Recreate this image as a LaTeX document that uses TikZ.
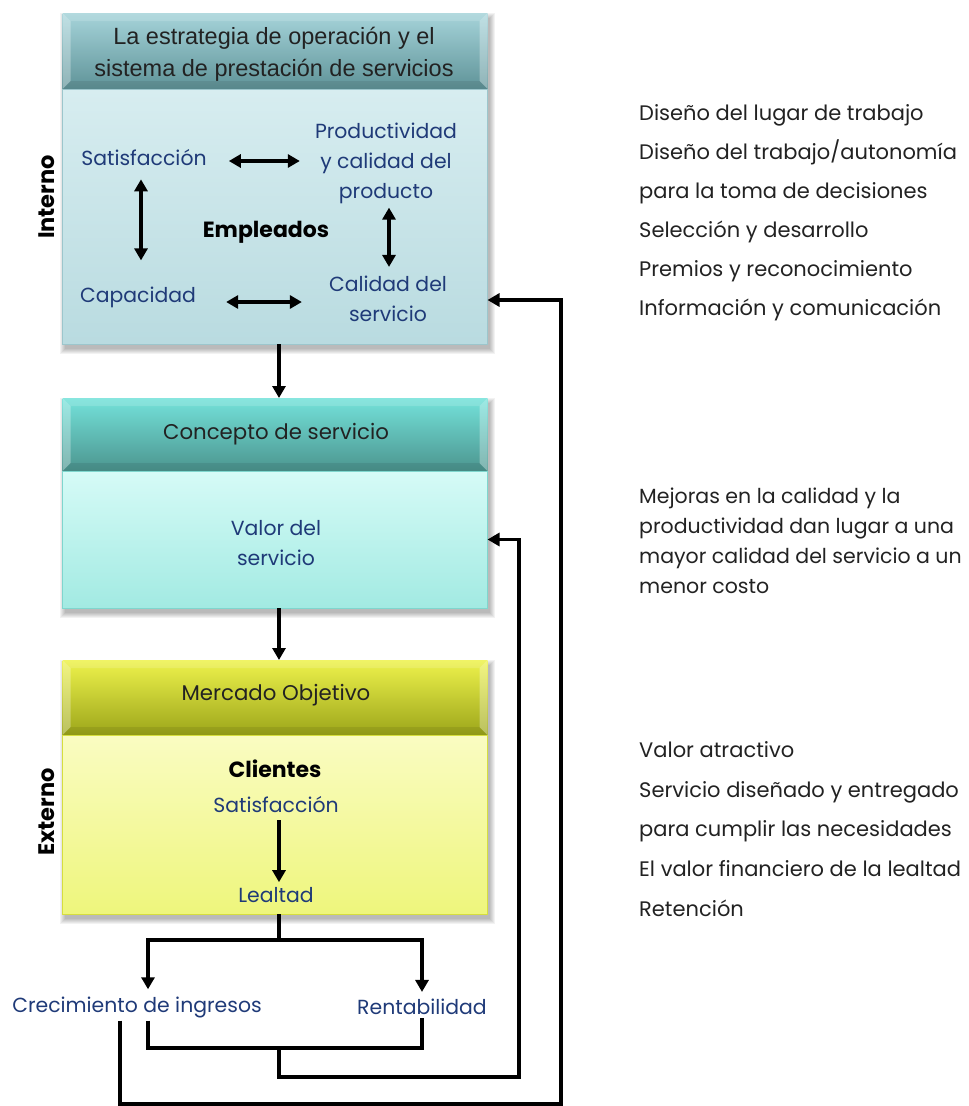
\documentclass[tikz,border=0pt]{standalone}
\usepackage{fontspec}
\setmainfont{Liberation Sans}
\newfontfamily\cgfont{Poppins}
\usetikzlibrary{arrows.meta,calc}
\definecolor{navy}{HTML}{1F3A78}
\definecolor{ink}{HTML}{222222}
% header and body colours of the three stages
\definecolor{hAtop}{HTML}{A6D4DA}\definecolor{hAbot}{HTML}{5F9398}
\definecolor{bAtop}{HTML}{D7EDF0}\definecolor{bAbot}{HTML}{B9DBE0}\definecolor{bAline}{HTML}{9CC6CC}
\definecolor{hBtop}{HTML}{74E2DA}\definecolor{hBbot}{HTML}{4C958F}
\definecolor{bBtop}{HTML}{D6FBF7}\definecolor{bBbot}{HTML}{A2EAE2}\definecolor{bBline}{HTML}{7FD6CE}
\definecolor{hCtop}{HTML}{EEF24C}\definecolor{hCbot}{HTML}{9CA61A}
\definecolor{bCtop}{HTML}{FAFCC2}\definecolor{bCbot}{HTML}{EEF67C}\definecolor{bCline}{HTML}{D6DE3E}

\tikzset{
  hdr/.style={minimum width=425pt, minimum height=#1, inner sep=0pt, outer sep=0pt},
  bodybox/.style={minimum width=425pt, minimum height=#1, inner sep=0pt, outer sep=0pt},
  bluetxt/.style={text=navy, font=\cgfont\fontsize{20.4}{30}\selectfont, align=center, inner sep=1pt},
  sidetxt/.style={anchor=west, text=ink, font=\cgfont\fontsize{21}{39}\selectfont, align=left, inner sep=0pt},
  boldtxt/.style={text=black, font=\cgfont\bfseries\fontsize{22}{24}\selectfont, inner sep=1pt},
  sidelabel/.style={text=black, font=\cgfont\bfseries\fontsize{22.5}{26}\selectfont, rotate=90, inner sep=0pt},
  hdrtxt/.style={text=ink, font=\cgfont\fontsize{21.3}{24}\selectfont},
  wire/.style={line width=3.2pt},
  arr/.style={line width=3.2pt, -{Triangle[length=12pt,width=13pt]}},
  dbl/.style={line width=3.2pt, {Triangle[length=12pt,width=13pt]}-{Triangle[length=12pt,width=13pt]}},
}

% soft shadow under a box spanning two nodes
\newcommand\softshadow[2]{%
  \foreach \k in {0,...,5}{%
    \fill[black,opacity=0.05]
      ([shift={(2pt-\k*1pt,-5pt+\k*1pt)}]#1.north west) rectangle
      ([shift={(2pt+\k*1pt,-5pt-\k*1pt)}]#2.south east);
  }%
}
% bevelled rim of a header bar
\newcommand\bevel[1]{%
  \fill[white,opacity=.30] (#1.north west) -- ([shift={(8pt,-8pt)}]#1.north west)
     -- ([shift={(8pt,8pt)}]#1.south west) -- (#1.south west) -- cycle;
  \fill[white,opacity=.30] (#1.north east) -- ([shift={(-8pt,-8pt)}]#1.north east)
     -- ([shift={(-8pt,8pt)}]#1.south east) -- (#1.south east) -- cycle;
  \fill[white,opacity=.15] (#1.north west) -- ([shift={(8pt,-8pt)}]#1.north west)
     -- ([shift={(-8pt,-8pt)}]#1.north east) -- (#1.north east) -- cycle;
  \fill[black,opacity=.08] (#1.south west) -- ([shift={(8pt,8pt)}]#1.south west)
     -- ([shift={(-8pt,8pt)}]#1.south east) -- (#1.south east) -- cycle;
}

\begin{document}
\begin{tikzpicture}[x=1pt,y=-1pt]
\useasboundingbox (0,0) rectangle (969,1106);

% ---------- box outlines (drawn first for the shadows) ----------
\node[hdr=76pt] (h1) at (275,51) {};
\node[bodybox=255pt] (b1) at (275,216.5) {};
\node[hdr=73pt] (h2) at (275,434.5) {};
\node[bodybox=137pt] (b2) at (275,539.5) {};
\node[hdr=75pt] (h3) at (275,697.5) {};
\node[bodybox=179pt] (b3) at (275,824.5) {};

\softshadow{h1}{b1}
\softshadow{h2}{b2}
\softshadow{h3}{b3}

% ---------- stage 1: operating strategy ----------
\shade[top color=hAtop, bottom color=hAbot] (h1.north west) rectangle (h1.south east);
\bevel{h1}
\shade[top color=bAtop, bottom color=bAbot, draw=bAline, line width=1pt] (b1.north west) rectangle (b1.south east);
\node[text=ink, font=\fontsize{23.5}{32}\selectfont, align=center] (t1) at (274,54)
  {La estrategia de operación y el\\sistema de prestación de servicios};

\node[bluetxt] (sat) at (144,158) {Satisfacción};
\node[bluetxt] (prod) at (386,163) {Productividad\\y calidad del\\producto};
\node[bluetxt] (cap) at (138,297) {Capacidad};
\node[bluetxt] (cal) at (388,299) {Calidad del\\servicio};
\node[boldtxt] (emp) at (266,232) {Empleados};
\node[sidelabel] (int) at (47,197) {Interno};

\draw[dbl, shorten <=21pt, shorten >=14pt] ([yshift=-3pt]sat.east) -- ([yshift=-3pt]sat.east -| prod.west);
\draw[dbl, shorten <=29pt, shorten >=26pt] ([yshift=-5pt]cap.east) -- ([yshift=-5pt]cap.east -| cal.west);
\draw[dbl, shorten <=12pt, shorten >=25pt] ([xshift=-3pt]sat.south) -- ([xshift=-3pt]sat.south |- cap.north);
\draw[dbl, shorten <=3pt, shorten >=8pt] ([xshift=3pt]prod.south) -- ([xshift=3pt]prod.south |- cal.north);

% ---------- stage 2: service concept ----------
\shade[top color=hBtop, bottom color=hBbot] (h2.north west) rectangle (h2.south east);
\bevel{h2}
\shade[top color=bBtop, bottom color=bBbot, draw=bBline, line width=1pt] (b2.north west) rectangle (b2.south east);
\node[hdrtxt] (t2) at (276,434) {Concepto de servicio};
\node[bluetxt] (val) at (276,543) {Valor del\\servicio};

% ---------- stage 3: target market ----------
\shade[top color=hCtop, bottom color=hCbot] (h3.north west) rectangle (h3.south east);
\bevel{h3}
\shade[top color=bCtop, bottom color=bCbot, draw=bCline, line width=1pt] (b3.north west) rectangle (b3.south east);
\node[hdrtxt] (t3) at (276,695) {Mercado Objetivo};
\node[boldtxt] (cli) at (275,769) {Clientes};
\node[bluetxt] (sat2) at (276,805) {Satisfacción};
\node[bluetxt] (lea) at (276,895) {Lealtad};
\node[sidelabel] (ext) at (47,812) {Externo};
\draw[arr, shorten <=6pt, shorten >=4pt] ([xshift=3pt]sat2.south) -- ([xshift=3pt]lea.north);

% ---------- results ----------
\node[bluetxt] (cre) at (137,1007) {Crecimiento de ingresos};
\node[bluetxt] (ren) at (422,1007) {Rentabilidad};

% ---------- flow between stages ----------
\draw[arr] ([xshift=4pt]b1.south) -- ([xshift=4pt]h2.north);
\draw[arr] ([xshift=4pt]b2.south) -- ([xshift=4pt]h3.north);

\coordinate (fork) at (279,940);
\draw[wire] ([xshift=4pt]b3.south) -- (fork);
\draw[arr, shorten >=6pt] (fork) -| ([xshift=11pt]cre.north);
\draw[arr, shorten >=6pt] (fork) -| (ren.north);

% feedback loops
\coordinate (join) at (279,1048);
\coordinate (loopA) at (519,1077);
\coordinate (loopB) at (561,1104);
\draw[wire] ([xshift=11pt,yshift=-2pt]cre.south) |- (join) -| ([yshift=-2pt]ren.south);
\draw[arr] (join) |- (loopA) |- (b2.east);
\draw[arr] ([xshift=-17pt,yshift=-2pt]cre.south) |- (loopB) |- ([yshift=-83.5pt]b1.east);

% ---------- explanatory notes ----------
\node[sidetxt] (n1) at (639,213) {Diseño del lugar de trabajo\\Diseño del trabajo/autonomía\\para la toma de decisiones\\Selección y desarrollo\\Premios y reconocimiento\\Información y comunicación};
\node[sidetxt, font=\cgfont\fontsize{20.5}{30}\selectfont] (n2) at (639,541) {Mejoras en la calidad y la\\productividad dan lugar a una\\mayor calidad del servicio a un\\menor costo};
\node[sidetxt, font=\cgfont\fontsize{21}{39.75}\selectfont] (n3) at (639,829) {Valor atractivo\\Servicio diseñado y entregado\\para cumplir las necesidades\\El valor financiero de la lealtad\\Retención};
\end{tikzpicture}
\end{document}
